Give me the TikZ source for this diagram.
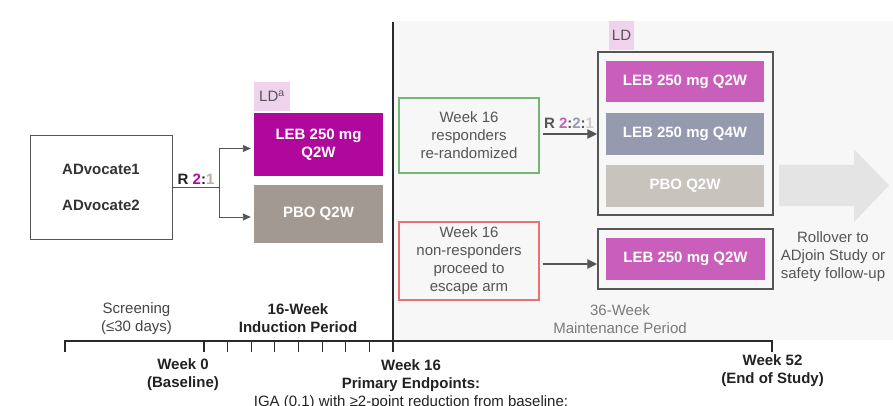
\documentclass[tikz,border=0pt]{standalone}
\usepackage{fontspec}
\setmainfont{Liberation Sans}
\usetikzlibrary{arrows.meta}

\definecolor{bggray}{HTML}{F7F7F7}
\definecolor{arrowgray}{HTML}{E4E4E4}
\definecolor{lebdark}{HTML}{B0089C}
\definecolor{pbodark}{HTML}{A29A92}
\definecolor{pbotan}{HTML}{C2AAA2}
\definecolor{ldpink}{HTML}{EFD3EC}
\definecolor{lebpink}{HTML}{C95EBB}
\definecolor{lebslate}{HTML}{959AAE}
\definecolor{pbolight}{HTML}{C9C3BE}
\definecolor{ratiolight}{HTML}{CCCCCC}
\definecolor{respgreen}{HTML}{72B872}
\definecolor{nonred}{HTML}{E57373}
\definecolor{linegray}{HTML}{555555}
\definecolor{framegray}{HTML}{555555}
\definecolor{tlblack}{HTML}{2A2A2A}
\definecolor{txtblack}{HTML}{222222}
\definecolor{txtdark}{HTML}{333333}
\definecolor{txtgray}{HTML}{555555}
\definecolor{txtsoft}{HTML}{444444}
\definecolor{txtlight}{HTML}{7A7A7A}

\begin{document}
\begin{tikzpicture}[x=1pt,y=-1pt,
	every node/.style={inner sep=0pt, align=center, font=\fontsize{15}{18}\selectfont},
	bold/.style={font=\bfseries\fontsize{15}{18}\selectfont},
	arm/.style={fill=#1, text=white, bold},
	frame/.style={draw=framegray, line width=1.5pt},
	wkbox/.style={draw=#1, line width=1.2pt, text=txtgray, minimum width=140pt},
	ldtag/.style={fill=ldpink, text=txtgray, minimum height=29pt},
	link/.style={draw=linegray, line width=0.9pt, -{Triangle[length=8pt,width=7pt]}},
	escape/.style={draw=linegray, line width=2.6pt, -{Triangle[length=10pt,width=9pt]}},
	tl/.style={draw=tlblack, line width=1.2pt}]
	\clip (0,0) rectangle (893,406);
	\fill [bggray] (394,21) rectangle (893,340);
	\fill [arrowgray] (779,165) -- (854,165) -- (854,149) -- (889,185.5) -- (854,222) -- (854,206) -- (779,206) -- cycle;
	% induction
	\node [draw=linegray, line width=0.9pt, minimum width=142pt, minimum height=104pt, text=txtdark, font=\bfseries\fontsize{15}{36}\selectfont] (advocate) at (101,187) {ADvocate1\\ADvocate2};
	\node [arm=lebdark, minimum width=129pt, minimum height=63pt] (lebI) at (318.5,144.5) {LEB 250 mg\\Q2W};
	\node [arm=pbodark, minimum width=129pt, minimum height=58pt] (pboI) at (318.5,214) {PBO Q2W};
	\node [ldtag, minimum width=36pt] (ldI) at (272,96.5) {LD\textsuperscript{a}};
	\coordinate (split) at (219,187);
	\draw [linegray, line width=0.9pt] (advocate.east) -- (split);
	\draw [link, shorten >=3pt] (split) |- ([yshift=-4pt]lebI.west);
	\draw [link, shorten >=3pt] (split) |- ([yshift=-3pt]pboI.west);
	\node [bold, text=txtblack] (ratioI) at (196,179) {R \textcolor{lebdark}{2}:\textcolor{pbotan}{1}};
	% maintenance
	\node [wkbox=respgreen, minimum height=75pt] (resp) at (469,135.5) {Week 16\\responders\\re-randomized};
	\node [wkbox=nonred, minimum height=78pt] (nonresp) at (469,261) {Week 16\\non-responders\\proceed to\\escape arm};
	\node [frame, minimum width=175pt, minimum height=163pt] (randframe) at (685.5,133.5) {};
	\node [ldtag, minimum width=25pt] (ldM) at (621.5,35.5) {LD};
	\node [arm=lebpink, minimum width=158pt, minimum height=41pt] (lebQ2) at (685,81.5) {LEB 250 mg Q2W};
	\node [arm=lebslate, minimum width=158pt, minimum height=42pt] (lebQ4) at (685,134) {LEB 250 mg Q4W};
	\node [arm=pbolight, minimum width=158pt, minimum height=42pt] (pboM) at (685,186) {PBO Q2W};
	\node [frame, minimum width=175pt, minimum height=60pt] (escframe) at (685.5,259) {};
	\node [arm=lebpink, minimum width=159pt, minimum height=42pt] (lebE) at (685.5,259) {LEB 250 mg Q2W};
	\coordinate (respout) at ([xshift=3pt,yshift=1.5pt]resp.east);
	\coordinate (escout) at ([xshift=3pt,yshift=-3pt]nonresp.east);
	\draw [escape] (respout) -- (respout -| randframe.west);
	\draw [escape] (escout) -- (escout -| escframe.west);
	\node [bold, text=txtgray] (ratioM) at (569,123) {R \textcolor{lebpink}{2}:\textcolor{lebslate}{2}:\textcolor{ratiolight}{1}};
	\node [text=txtgray] (rollover) at (833,257) {Rollover to\\ADjoin Study or\\safety follow-up};
	% timeline
	\draw [tl] (65,352) -- (65,341) -- (772,341) -- (772,352);
	\foreach \wk in {0,...,7}
		\draw [tl] ({204+\wk*23.625},341) -- ++(0,11);
	\draw [tl] (393,22) -- (393,352);
	\node [text=txtsoft] (screening) at (136.5,318.5) {Screening\\(≤30 days)};
	\node [bold, text=txtblack] (induction) at (298,318) {16-Week\\Induction Period};
	\node [text=txtlight] (maintenance) at (620,319) {36-Week\\Maintenance Period};
	\node [bold, text=txtblack] (wk0) at (183,375) {Week 0\\(Baseline)};
	\node [bold, text=txtblack] (wk16) at (411,375.5) {Week 16\\Primary Endpoints:};
	\node [text=txtblack] (endpoint) at (411,403) {IGA (0,1) with ≥2-point reduction from baseline;};
	\node [bold, text=txtblack] (wk52) at (772.5,371) {Week 52\\(End of Study)};
\end{tikzpicture}
\end{document}
